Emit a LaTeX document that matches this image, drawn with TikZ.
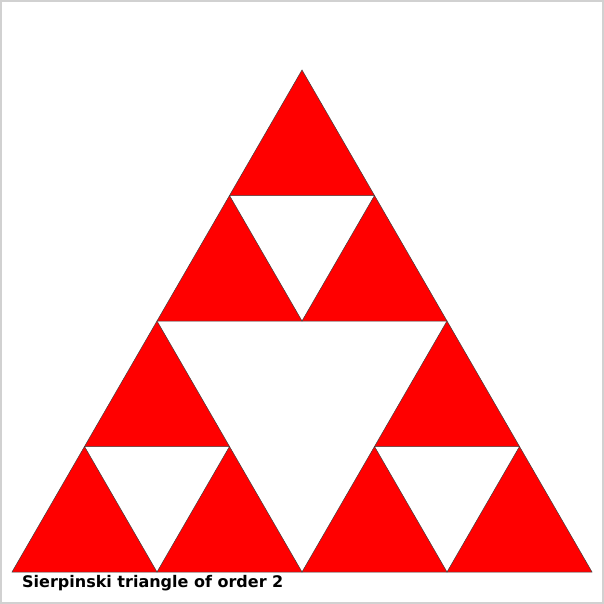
\documentclass[tikz,border=0pt]{standalone}
\usepackage{fontspec}
\setmainfont{DejaVu Sans}
\begin{document}
\begin{tikzpicture}[x=1pt,y=-1pt,
  sier/.style={fill=red,draw=black!75,line width=0.5pt,line join=miter},
  frame/.style={draw=black!18,line width=2pt}]
\useasboundingbox (0,0) rectangle (604,604);
\fill[white] (0,0) rectangle (604,604);
\draw[frame] (1,1) rectangle (603,603);
\foreach \ax/\ay in {302/70, 229.5/195.5, 374.5/195.5,
                     157/321, 84.5/446.5, 229.5/446.5,
                     447/321, 374.5/446.5, 519.5/446.5}{
  \draw[sier] (\ax,\ay) -- ++(72.5,125.5) -- ++(-145,0) -- cycle;
}
\node[anchor=base west,inner sep=0pt,font=\bfseries\fontsize{16}{19}\selectfont] (title) at (22,587) {Sierpinski triangle of order 2};
\end{tikzpicture}
\end{document}
